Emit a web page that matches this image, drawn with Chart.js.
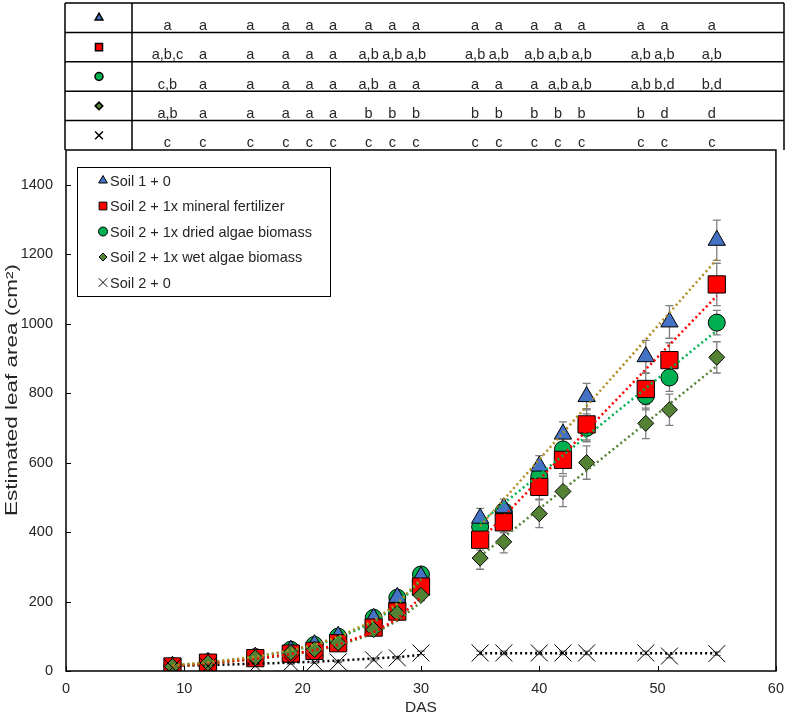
<!DOCTYPE html>
<html>
<head>
<meta charset="utf-8">
<script src="https://cdn.jsdelivr.net/npm/chart.js@4.4.1/dist/chart.umd.min.js"></script>
<style>
  body { margin: 0; background: #fff; }
  canvas { display: block; }
</style>
</head>
<body>
<canvas id="leafChart" width="793" height="716"></canvas>
<script>
// Days after sowing
const das = [9, 12, 16, 19, 21, 23, 26, 28, 30, 35, 37, 40, 42, 44, 49, 51, 55];

const seriesNames = [
  'Soil 1 + 0',
  'Soil 2 + 1x mineral fertilizer',
  'Soil 2 + 1x dried algae biomass',
  'Soil 2 + 1x wet algae biomass',
  'Soil 2 + 0'
];

// Estimated leaf area (cm²)
const soil1   = [14, 25, 40, 60, 76, 100, 152, 212, 272, 440, 470, 590, 682, 790, 905, 1005, 1240];
const mineral = [13, 24, 37, 50, 58, 80, 125, 171, 243, 378, 428, 530, 608, 710, 812, 895, 1113];
const dried   = [14, 25, 40, 61, 75, 99, 153, 211, 278, 415, 460, 560, 638, 700, 792, 845, 1003];
const wet     = [13, 23, 38, 53, 62, 81, 119, 166, 218, 325, 372, 453, 517, 600, 713, 752, 903];
const soil2   = [10, 14, 15, 22, 24, 26, 32, 38, 52, 52, 52, 52, 52, 52, 52, 43, 50];

// Error bars (±)
const soil1Err   = [3, 4, 5, 6, 6, 8, 10, 12, 15, 28, 25, 30, 35, 38, 47, 47, 58];
const mineralErr = [3, 4, 5, 6, 6, 8, 10, 12, 15, 30, 30, 35, 40, 45, 45, 50, 61];
const driedErr   = [3, 4, 5, 6, 6, 8, 10, 12, 15, 25, 25, 30, 35, 40, 40, 40, 35];
const wetErr     = [3, 4, 5, 6, 6, 8, 10, 12, 15, 32, 32, 40, 44, 48, 44, 45, 45];
const soil2Err   = [1, 1, 1, 2, 2, 2, 3, 3, 5, 5, 5, 5, 5, 5, 5, 5, 5];

// Trend lines (first phase curve, second phase straight)
const trendDays    = [9, 12, 16, 19, 21, 23, 26, 28, 30, 35, 55];
const soil1Trend   = [16, 25, 41, 60, 76, 98, 145, 195, 265, 417, 1185];
const mineralTrend = [14, 22, 35, 49, 60, 76, 112, 150, 212, 375, 1080];
const driedTrend   = [16, 24, 40, 58, 74, 95, 140, 190, 262, 427, 980];
const wetTrend     = [13, 21, 34, 47, 58, 73, 108, 145, 198, 330, 878];
const soil2Trend   = [15, 17, 21, 24, 27, 30, 36, 40, 46, 51, 51];

// Significance letters per sampling day
const soil1Letters   = ['a','a','a','a','a','a','a','a','a','a','a','a','a','a','a','a','a'];
const mineralLetters = ['a,b,c','a','a','a','a','a','a,b','a,b','a,b','a,b','a,b','a,b','a,b','a,b','a,b','a,b','a,b'];
const driedLetters   = ['c,b','a','a','a','a','a','a,b','a','a','a','a','a','a,b','a,b','a,b','b,d','b,d'];
const wetLetters     = ['a,b','a','a','a','a','a','b','b','b','b','b','b','b','b','b','d','d'];
const soil2Letters   = ['c','c','c','c','c','c','c','c','c','c','c','c','c','c','c','c','c'];

const yTicks = [0, 200, 400, 600, 800, 1000, 1200, 1400];

const FONT = 'Liberation Sans, Arial, sans-serif';
const TEXT = '#262626';

const styles = [
  { style: 'triangle', color: '#4472C4', r: 10, order: 3, trend: '#B08A1C' },
  { style: 'rect', color: '#FF0000', r: 12.2, order: 2, trend: '#FF0000' },
  { style: 'circle', color: '#00B050', r: 8.5, order: 4, trend: '#00B050' },
  { style: 'rectRot', color: '#548235', r: 8, order: 1, trend: '#548235' },
  { style: 'crossRot', color: '#000000', r: 12, order: 0, trend: '#000000' }
];

const values = [soil1, mineral, dried, wet, soil2];
const errors = [soil1Err, mineralErr, driedErr, wetErr, soil2Err];
const trends = [soil1Trend, mineralTrend, driedTrend, wetTrend, soil2Trend];
const letters = [soil1Letters, mineralLetters, driedLetters, wetLetters, soil2Letters];

const datasets = [];
values.forEach((vals, k) => {
  const s = styles[k];
  datasets.push({
    label: seriesNames[k],
    data: das.map((d, i) => ({ x: d, y: vals[i] })),
    errors: errors[k],
    showLine: false,
    pointStyle: s.style,
    pointRadius: s.r,
    pointBackgroundColor: s.style === 'crossRot' ? 'rgba(0,0,0,0)' : s.color,
    pointBorderColor: '#000',
    pointBorderWidth: 1,
    order: s.order
  });
});
trends.forEach((vals, k) => {
  const pts = trendDays.map((d, i) => ({ x: d, y: vals[i] }));
  pts.splice(9, 0, { x: 32.5, y: null }); // break between the two phases
  datasets.push({
    label: seriesNames[k] + ' trend',
    data: pts,
    showLine: true,
    spanGaps: false,
    pointRadius: 0,
    borderColor: styles[k].trend,
    borderWidth: 2.5,
    borderDash: [2, 3],
    order: -1
  });
});

// grey error bars under the markers
const errorBars = {
  id: 'errorBars',
  beforeDatasetsDraw(chart) {
    const { ctx, scales: { x, y } } = chart;
    ctx.save();
    ctx.strokeStyle = '#7F7F7F';
    ctx.lineWidth = 1.3;
    chart.data.datasets.forEach(ds => {
      if (!ds.errors) return;
      ds.data.forEach((p, i) => {
        const e = ds.errors[i];
        const px = x.getPixelForValue(p.x);
        const top = y.getPixelForValue(p.y + e);
        const bot = y.getPixelForValue(p.y - e);
        ctx.beginPath();
        ctx.moveTo(px, top); ctx.lineTo(px, bot);
        ctx.moveTo(px - 4, top); ctx.lineTo(px + 4, top);
        ctx.moveTo(px - 4, bot); ctx.lineTo(px + 4, bot);
        ctx.stroke();
      });
    });
    ctx.restore();
  }
};

function marker(ctx, k, radius, x, y) {
  const s = styles[k];
  ctx.fillStyle = s.color;
  ctx.strokeStyle = '#000';
  Chart.helpers.drawPoint(ctx, { pointStyle: s.style, radius: radius, rotation: 0, borderWidth: 1 }, x, y);
}

// frame, inner ticks, axis titles, legend and letter table
const decorations = {
  id: 'decorations',
  afterDraw(chart) {
    const { ctx, chartArea: a, scales: { x, y } } = chart;
    ctx.save();

    // plot frame
    ctx.strokeStyle = '#000';
    ctx.lineWidth = 1.5;
    ctx.strokeRect(a.left, a.top, a.right - a.left, a.bottom - a.top);
    ctx.lineWidth = 1;
    ctx.beginPath();
    x.ticks.forEach(t => {
      const px = Math.round(x.getPixelForValue(t.value)) + 0.5;
      ctx.moveTo(px, a.bottom); ctx.lineTo(px, a.bottom - 5);
    });
    y.ticks.forEach(t => {
      const py = Math.round(y.getPixelForValue(t.value)) + 0.5;
      ctx.moveTo(a.left, py); ctx.lineTo(a.left + 5, py);
    });
    ctx.stroke();

    // axis titles
    ctx.fillStyle = TEXT;
    ctx.textAlign = 'center';
    ctx.textBaseline = 'middle';
    ctx.font = '15.5px ' + FONT;
    ctx.fillText('DAS', (a.left + a.right) / 2, 708);
    ctx.save();
    ctx.translate(13, 390);
    ctx.rotate(-Math.PI / 2);
    ctx.font = '16px ' + FONT;
    const title = 'Estimated leaf area (cm²)';
    ctx.scale(252 / ctx.measureText(title).width, 1);
    ctx.fillText(title, 0, 0);
    ctx.restore();

    // legend
    ctx.lineWidth = 1;
    ctx.strokeStyle = '#000';
    ctx.strokeRect(77.5, 167.5, 253, 129);
    const legendR = [5, 5.5, 4.5, 4, 6];
    ctx.font = '14.5px ' + FONT;
    ctx.textAlign = 'left';
    seriesNames.forEach((name, k) => {
      const ly = 180.5 + k * 25.5;
      marker(ctx, k, legendR[k], 103, ly);
      ctx.fillStyle = TEXT;
      ctx.fillText(name, 110, ly + 1);
    });

    // significance table
    const tLeft = 65, tRight = 784, tTop = 3, rowH = (a.top - tTop) / 5, divider = 132;
    ctx.strokeStyle = '#000';
    ctx.lineWidth = 1.5;
    ctx.beginPath();
    for (let r = 0; r < 5; r++) {
      const ry = tTop + r * rowH;
      ctx.moveTo(tLeft, ry); ctx.lineTo(tRight, ry);
    }
    ctx.moveTo(tLeft, tTop); ctx.lineTo(tLeft, a.top);
    ctx.moveTo(divider, tTop); ctx.lineTo(divider, a.top);
    ctx.moveTo(tRight, tTop); ctx.lineTo(tRight, a.top);
    ctx.stroke();

    const tableR = [4.5, 5, 4, 3.8, 5.5];
    ctx.font = '14.5px ' + FONT;
    ctx.textAlign = 'center';
    letters.forEach((row, k) => {
      const cy = tTop + (k + 0.5) * rowH;
      marker(ctx, k, tableR[k], 99, cy);
      ctx.fillStyle = TEXT;
      row.forEach((txt, i) => {
        ctx.fillText(txt, x.getPixelForValue(das[i]) - 5, cy + 8);
      });
    });

    ctx.restore();
  }
};

new Chart(document.getElementById('leafChart'), {
  type: 'scatter',
  data: { datasets: datasets },
  options: {
    responsive: false,
    animation: false,
    layout: { padding: { top: 150, right: 8, left: 0, bottom: 0 } },
    plugins: {
      legend: { display: false },
      tooltip: { enabled: false }
    },
    scales: {
      x: {
        type: 'linear',
        min: 0,
        max: 60,
        grid: { display: false, drawTicks: false },
        border: { display: false },
        ticks: { stepSize: 10, padding: 9, color: TEXT, font: { family: FONT, size: 14.5 } },
        afterFit(scale) { scale.height = 45; }
      },
      y: {
        min: 0,
        max: 1500,
        grid: { display: false, drawTicks: false },
        border: { display: false },
        afterBuildTicks(scale) { scale.ticks = yTicks.map(v => ({ value: v })); },
        ticks: {
          padding: 13,
          color: TEXT,
          font: { family: FONT, size: 14.5 },
          callback: v => String(v)
        },
        afterFit(scale) { scale.width = 66; }
      }
    }
  },
  plugins: [errorBars, decorations]
});
</script>
</body>
</html>
